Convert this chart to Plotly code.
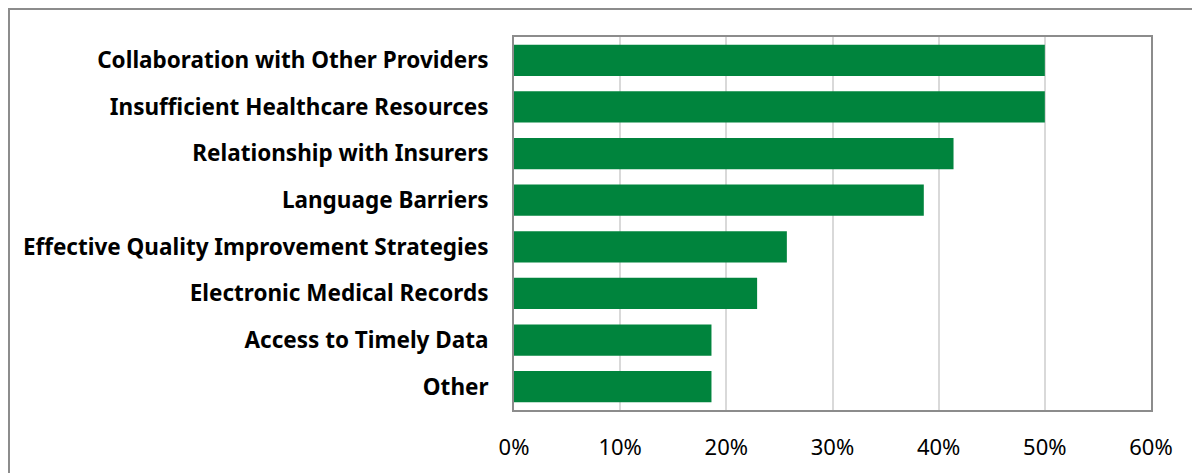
import plotly.graph_objects as go

# data
categories = [
    "Collaboration with Other Providers",
    "Insufficient Healthcare Resources",
    "Relationship with Insurers",
    "Language Barriers",
    "Effective Quality Improvement Strategies",
    "Electronic Medical Records",
    "Access to Timely Data",
    "Other",
]
shares = [0.50, 0.50, 0.414, 0.386, 0.257, 0.229, 0.186, 0.186]
x_ticks = [0, 0.1, 0.2, 0.3, 0.4, 0.5, 0.6]
x_tick_labels = ["0%", "10%", "20%", "30%", "40%", "50%", "60%"]

fig = go.Figure()
fig.add_trace(go.Bar(
    y=categories,
    x=shares,
    orientation="h",
    marker=dict(color="#00843D", line=dict(width=0)),
    hovertemplate="%{y}: %{x:.0%}<extra></extra>",
))

# page body adds ~8px offset, margins compensate for it
fig.update_layout(
    width=1200,
    height=473,
    margin=dict(l=506, r=57, t=29, b=71),
    paper_bgcolor="white",
    plot_bgcolor="white",
    showlegend=False,
    bargap=0.33,
    font=dict(family="Noto Sans, Open Sans, sans-serif", color="black", size=20),
    # outer frame around the figure (clipped at the right / bottom edges)
    shapes=[dict(
        type="rect", xref="paper", yref="paper",
        x0=-0.7928, x1=1.12, y0=-0.25, y1=1.0751,
        line=dict(color="#8c8c8c", width=2), layer="below",
    )],
)

fig.update_xaxes(
    range=[0, 0.6],
    tickvals=x_ticks,
    ticktext=x_tick_labels,
    showgrid=True,
    gridcolor="#d9d9d9",
    gridwidth=1.5,
    showline=True,
    linecolor="#8c8c8c",
    linewidth=2,
    mirror=True,
    zeroline=False,
    ticks="",
    ticklabelstandoff=17,
    tickfont=dict(size=22),
)
fig.update_yaxes(
    categoryorder="array",
    categoryarray=categories,
    autorange="reversed",
    showline=True,
    linecolor="#8c8c8c",
    linewidth=2,
    mirror=True,
    showgrid=False,
    ticks="",
    ticklabelstandoff=19,
    tickfont=dict(size=22.5, weight="bold"),
)

fig.write_html("out.html")
